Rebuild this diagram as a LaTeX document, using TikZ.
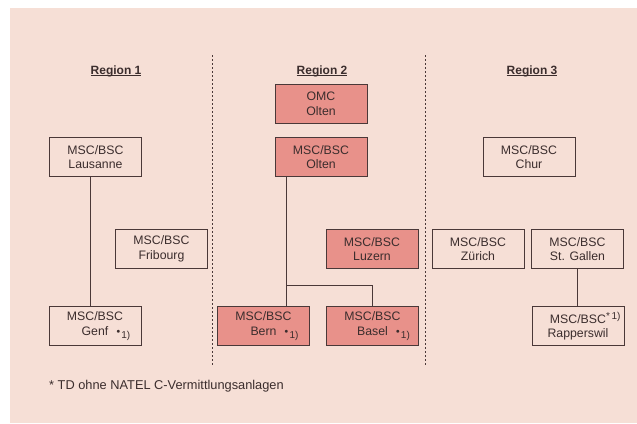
\documentclass[tikz,border=0pt]{standalone}
\usepackage{fontspec}
\setmainfont{Liberation Sans}
\usepackage{xcolor}
\usepackage{tikz}
\usetikzlibrary{positioning, calc}

\definecolor{paper}{HTML}{F6DFD6}
\definecolor{salmon}{HTML}{E8918A}
\definecolor{ink}{HTML}{4A3838}

% underline with a firmer rule
\newcommand\thickul[1]{\setbox0\hbox{#1}\rlap{\rule[-2.2pt]{\wd0}{1pt}}\box0}
% footnote mark "* 1)"
\newcommand\fnmark{\rlap{\hspace{8pt}\raisebox{1.5pt}{\scriptsize$\bullet$}\hspace{1pt}\raisebox{-3pt}{\fontsize{10}{10}\selectfont 1)}}}

\begin{document}
\begin{tikzpicture}[
      x=1pt, y=-1pt,
      msc/.style={
        rectangle, draw=ink, line width=0.7pt, fill=paper,
        minimum width=92pt, minimum height=39pt, inner sep=0pt,
        align=center, text=ink!80!black, font=\fontsize{12.3}{14.5}\selectfont},
      hub/.style={msc, fill=salmon},
      region/.style={text=ink!80!black, font=\fontsize{12}{14}\selectfont\bfseries},
      link/.style={draw=ink, line width=0.7pt},
      border/.style={draw=ink, line width=0.6pt, dash pattern=on 2pt off 2pt}
    ]
    \useasboundingbox (0,0) rectangle (637,423);
    \fill[paper] (10,8) rectangle (637,423);

    % --- Region headings ---
    \node[region] (reg1) at (116,71) {\thickul{Region 1}};
    \node[region] (reg2) at (322,71) {\thickul{Region 2}};
    \node[region] (reg3) at (532,71) {\thickul{Region 3}};

    % --- Region borders ---
    \coordinate (cut1a) at (212,55);
    \coordinate (cut1b) at (212,365);
    \coordinate (cut2a) at (425,55);
    \coordinate (cut2b) at (425,365);
    \draw[border] (cut1a) -- (cut1b);
    \draw[border] (cut2a) -- (cut2b);

    % --- Region 1 ---
    \node[msc] (lausanne) at (95.5,157) {MSC/BSC\\Lausanne};
    \node[msc] (fribourg) at (161.5,249) {MSC/BSC\\Fribourg};
    \node[msc] (genf)     at (95,326)    {MSC/BSC\\Genf\fnmark};

    % --- Region 2 ---
    \node[hub] (omc)      at (321,104)   {OMC\\Olten};
    \node[hub] (olten)    at (321,157)   {MSC/BSC\\Olten};
    \node[hub] (luzern)   at (372,249)   {MSC/BSC\\Luzern};
    \node[hub] (bern)     at (263.5,326) {MSC/BSC\\Bern\fnmark};
    \node[hub] (basel)    at (372.5,326) {MSC/BSC\\Basel\fnmark};

    % --- Region 3 ---
    \node[msc] (chur)     at (529,157)   {MSC/BSC\\Chur};
    \node[msc] (zuerich)  at (478,249)   {MSC/BSC\\Zürich};
    \node[msc] (gallen)   at (577.5,249) {MSC/BSC\\St. Gallen};
    \node[msc] (rapp)     at (578,326)
      {MSC/BSC\rlap{\raisebox{4pt}{\fontsize{10}{10}\selectfont *\,1)}}\\Rapperswil};

    % --- Links ---
    \draw[link] ([xshift=-5pt]lausanne.south) coordinate (drop1) -- (drop1 |- genf.north);
    \draw[link] ([xshift=-35pt]olten.south) coordinate (drop2) -- (drop2 |- bern.north);
    \draw[link] ([yshift=21pt]drop2 |- basel.north) -| (basel.north);
    \draw[link] (gallen.south) -- (gallen.south |- rapp.north);

    % --- Footnote ---
    \node[anchor=west, inner sep=0pt, text=ink!80!black, font=\fontsize{12.8}{14}\selectfont] (note) at (49,386)
      {* TD ohne NATEL C-Vermittlungsanlagen};
  \end{tikzpicture}
\end{document}
